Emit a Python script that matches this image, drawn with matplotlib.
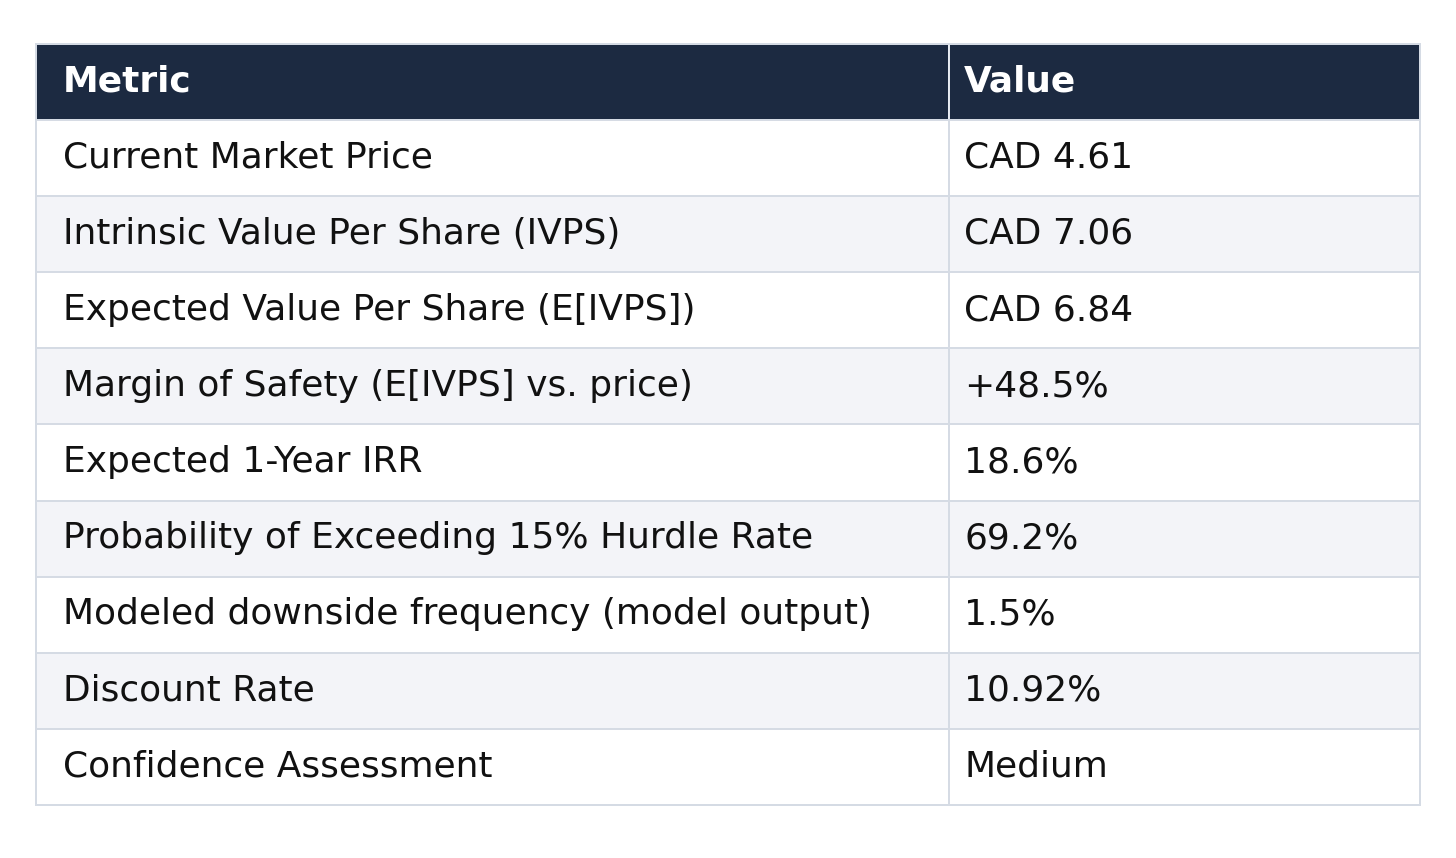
import matplotlib.pyplot as plt
from matplotlib.patches import Rectangle

# table content
headers = ["Metric", "Value"]
metrics = [
    "Current Market Price",
    "Intrinsic Value Per Share (IVPS)",
    "Expected Value Per Share (E[IVPS])",
    "Margin of Safety (E[IVPS] vs. price)",
    "Expected 1-Year IRR",
    "Probability of Exceeding 15% Hurdle Rate",
    "Modeled downside frequency (model output)",
    "Discount Rate",
    "Confidence Assessment",
]
values = ["CAD 4.61", "CAD 7.06", "CAD 6.84", "+48.5%", "18.6%",
          "69.2%", "1.5%", "10.92%", "Medium"]

col_widths = [0.66, 0.34]
pads = [0.0195, 0.0108]
header_color = "#1c2a41"
stripe_color = "#f3f4f8"
border_color = "#d5dbe4"

fig = plt.figure(figsize=(14.56, 8.58), dpi=100)
ax = fig.add_axes([0.0247, 0.0618, 0.9505, 0.8869])
n = len(metrics) + 1
ax.set_xlim(0, 1)
ax.set_ylim(n, 0)
ax.axis("off")

xs = [0, col_widths[0]]
rows = [headers] + [[m, v] for m, v in zip(metrics, values)]
for r, row in enumerate(rows):
    for c, txt in enumerate(row):
        if r == 0:
            fc, ec, tc, fw = header_color, "#e8ecf2", "white", "bold"
        else:
            fc = "white" if r % 2 == 1 else stripe_color
            ec, tc, fw = border_color, "#111111", "normal"
        ax.add_patch(Rectangle((xs[c], r), col_widths[c], 1, facecolor=fc,
                               edgecolor=ec, linewidth=1.4, clip_on=False))
        ax.text(xs[c] + pads[c], r + 0.45, txt, fontsize=25.9, color=tc,
                fontweight=fw, va="center_baseline", ha="left",
                family="DejaVu Sans")

# outer border
ax.add_patch(Rectangle((0, 0), 1, n, fill=False, edgecolor=border_color,
                       linewidth=1.4, clip_on=False))

fig.savefig("out.png", dpi=100, facecolor="white")
